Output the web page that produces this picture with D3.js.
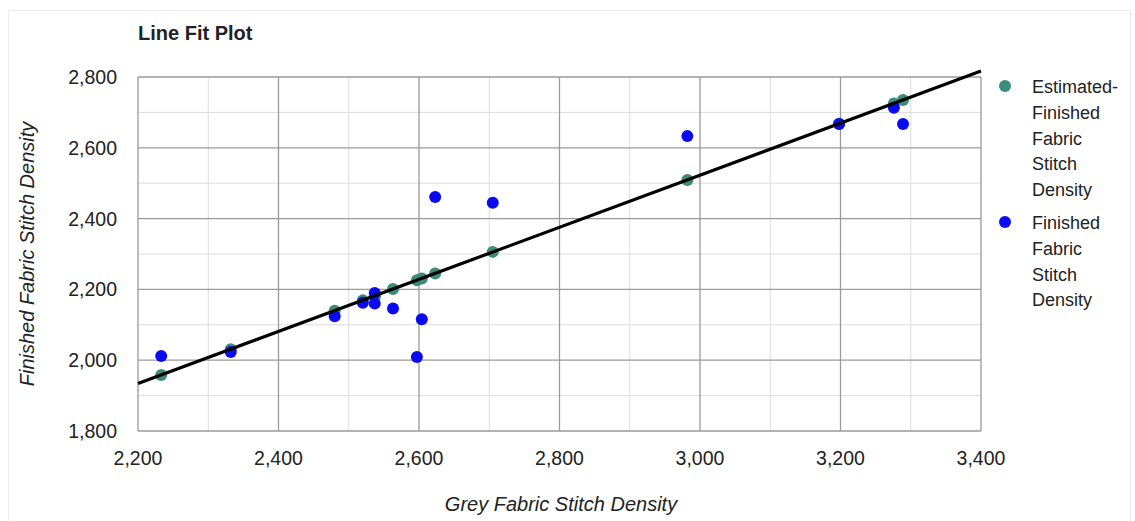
<!DOCTYPE html>
<html>
<head>
<meta charset="utf-8">
<script src="https://cdn.jsdelivr.net/npm/d3@7"></script>
<style>
  body { margin: 0; background: #fff; }
  svg text { font-family: "Liberation Sans", Arial, sans-serif; fill: #222; }
</style>
</head>
<body>
<svg id="chart" width="1135" height="521"></svg>
<script>
// Data
var greyDensity = [2233, 2332, 2480, 2520, 2537, 2537, 2563, 2597, 2604, 2623, 2705, 2982, 3198, 3276, 3289]
var finishedDensity = [2012, 2023, 2124, 2162, 2190, 2160, 2146, 2009, 2116, 2461, 2445, 2633, 2667, 2713, 2667]
var estimatedDensity = [1958, 2031, 2140, 2169, 2181, 2181, 2201, 2226, 2231, 2245, 2306, 2509, 2668, 2725, 2735]
var fitLineX = [2200, 3400]
var fitLineY = [1934, 2817]
var xTicks = [2200, 2400, 2600, 2800, 3000, 3200, 3400]
var yTicks = [1800, 2000, 2200, 2400, 2600, 2800]
var legendLabels = [
  ['Estimated-', 'Finished', 'Fabric', 'Stitch', 'Density'],
  ['Finished', 'Fabric', 'Stitch', 'Density']
]

var estColor = '#3d8b7a'
var actColor = '#0a0af0'

var svg = d3.select('#chart')
var margin = { left: 138, top: 77 },
  width = 843,
  height = 354

// outer frame
svg.append('rect')
  .attr('x', 8.5).attr('y', 10.5)
  .attr('width', 1122).attr('height', 512)
  .attr('fill', 'none').attr('stroke', '#ececec')

var g = svg.append('g').attr('transform', 'translate(' + margin.left + ',' + margin.top + ')')

var x = d3.scaleLinear().domain([2200, 3400]).range([0, width])
var y = d3.scaleLinear().domain([1800, 2800]).range([height, 0])

// minor grid
g.append('g').selectAll('line')
  .data(d3.range(2300, 3400, 200))
  .enter().append('line')
  .attr('x1', d => x(d)).attr('x2', d => x(d))
  .attr('y1', 0).attr('y2', height)
  .attr('stroke', '#dcdcdc').attr('stroke-width', 1)
g.append('g').selectAll('line')
  .data(d3.range(1900, 2800, 200))
  .enter().append('line')
  .attr('y1', d => y(d)).attr('y2', d => y(d))
  .attr('x1', 0).attr('x2', width)
  .attr('stroke', '#dcdcdc').attr('stroke-width', 1)

// major grid
g.append('g').selectAll('line')
  .data(xTicks)
  .enter().append('line')
  .attr('x1', d => x(d)).attr('x2', d => x(d))
  .attr('y1', 0).attr('y2', height)
  .attr('stroke', '#9a9a9a').attr('stroke-width', 1.3)
g.append('g').selectAll('line')
  .data(yTicks)
  .enter().append('line')
  .attr('y1', d => y(d)).attr('y2', d => y(d))
  .attr('x1', 0).attr('x2', width)
  .attr('stroke', '#9a9a9a').attr('stroke-width', 1.3)

// tick labels
var fmt = d3.format(',')
g.append('g').selectAll('text')
  .data(xTicks)
  .enter().append('text')
  .attr('x', d => x(d)).attr('y', height + 34)
  .attr('text-anchor', 'middle')
  .style('font-size', '19.5px')
  .text(d => fmt(d))
g.append('g').selectAll('text')
  .data(yTicks)
  .enter().append('text')
  .attr('x', -21).attr('y', d => y(d) + 7)
  .attr('text-anchor', 'end')
  .style('font-size', '19.5px')
  .text(d => fmt(d))

// axis titles
svg.append('text')
  .attr('x', 561).attr('y', 511)
  .attr('text-anchor', 'middle')
  .style('font-size', '20px').style('font-style', 'italic')
  .text('Grey Fabric Stitch Density')
svg.append('text')
  .attr('transform', 'translate(34,254) rotate(-90)')
  .attr('text-anchor', 'middle')
  .style('font-size', '20px').style('font-style', 'italic')
  .text('Finished Fabric Stitch Density')

// title
svg.append('text')
  .attr('x', 138).attr('y', 40)
  .style('font-size', '20px').style('font-weight', 'bold')
  .text('Line Fit Plot')

// estimated points
g.append('g').selectAll('circle')
  .data(greyDensity)
  .enter().append('circle')
  .attr('cx', d => x(d))
  .attr('cy', (d, i) => y(estimatedDensity[i]))
  .attr('r', 6)
  .attr('fill', estColor)

// actual points
g.append('g').selectAll('circle')
  .data(greyDensity)
  .enter().append('circle')
  .attr('cx', d => x(d))
  .attr('cy', (d, i) => y(finishedDensity[i]))
  .attr('r', 6)
  .attr('fill', actColor)

// fitted line
var line = d3.line().x(d => x(d[0])).y(d => y(d[1]))
g.append('path')
  .datum(fitLineX.map((v, i) => [v, fitLineY[i]]))
  .attr('d', line)
  .attr('fill', 'none')
  .attr('stroke', '#000')
  .attr('stroke-width', 3.2)

// legend
var legend = svg.append('g').attr('transform', 'translate(1005,0)')
var legendColors = [estColor, actColor]
var legendTop = [87, 223]
legendLabels.forEach(function (lines, k) {
  legend.append('circle')
    .attr('cx', 0).attr('cy', legendTop[k] - 1)
    .attr('r', 6).attr('fill', legendColors[k])
  lines.forEach(function (t, j) {
    legend.append('text')
      .attr('x', 27).attr('y', legendTop[k] + 6 + j * 25.8)
      .style('font-size', '18px')
      .text(t)
  })
})
</script>
</body>
</html>
